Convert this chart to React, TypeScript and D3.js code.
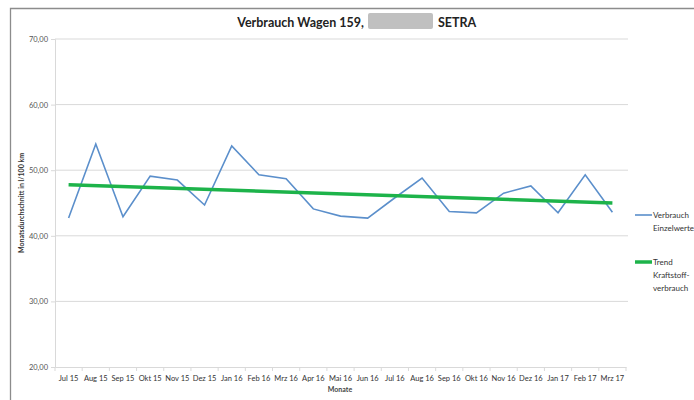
import React, { useEffect, useRef } from "react";
import * as d3 from "d3";

const months = [
  "Jul 15", "Aug 15", "Sep 15", "Okt 15", "Nov 15", "Dez 15", "Jan 16",
  "Feb 16", "Mrz 16", "Apr 16", "Mai 16", "Jun 16", "Jul 16", "Aug 16",
  "Sep 16", "Okt 16", "Nov 16", "Dez 16", "Jan 17", "Feb 17", "Mrz 17",
];
const verbrauch = [
  42.7, 54.0, 42.9, 49.1, 48.5, 44.7, 53.7, 49.3, 48.7, 44.1, 43.0,
  42.7, 45.8, 48.8, 43.7, 43.5, 46.5, 47.6, 43.5, 49.3, 43.6,
];
// trend line end points
const trend = [
  { month: "Jul 15", value: 47.8 },
  { month: "Mrz 17", value: 45.0 },
];
const yTicks = [20, 30, 40, 50, 60, 70];

const W = 694;
const H = 400;
const FONT = "Lato, 'Open Sans', sans-serif";

const App = () => {
  const ref = useRef<SVGSVGElement>(null);

  useEffect(() => {
    drawChart();
    //eslint-disable-next-line
  }, []);

  function drawChart() {
    const svg = d3.select(ref.current);
    svg.selectAll("*").remove();

    const left = 55, right = 626, top = 39, bottom = 367;

    const x = d3.scaleBand().domain(months).range([left, right]).padding(0);
    const y = d3.scaleLinear().domain([20, 70]).range([bottom, top]);
    const cx = (m: string) => (x(m) as number) + x.bandwidth() / 2;

    // frame (top + left, cropped)
    svg.append("path").attr("d", `M10.5,${H}V8.5H${W}`).attr("fill", "none")
      .attr("stroke", "#8c8c8c").attr("stroke-width", 1.3);

    // title
    svg.append("text").attr("x", 364).attr("y", 27)
      .attr("text-anchor", "end").attr("font-family", FONT)
      .attr("font-size", 12.5).attr("font-weight", "bold").attr("fill", "#222")
      .text("Verbrauch Wagen 159,");
    svg.append("rect").attr("x", 368).attr("y", 13).attr("width", 65).attr("height", 16)
      .attr("rx", 2).attr("fill", "#c0c0c0");
    svg.append("text").attr("x", 438).attr("y", 27)
      .attr("font-family", FONT)
      .attr("font-size", 12.5).attr("font-weight", "bold").attr("fill", "#222")
      .text("SETRA");

    // gridlines
    svg.append("g").selectAll("line").data(yTicks.filter((d) => d > 20)).enter()
      .append("line")
      .attr("x1", left).attr("x2", right + 2)
      .attr("y1", (d) => y(d)).attr("y2", (d) => y(d))
      .attr("stroke", "#d9d9d9").attr("stroke-width", 1);

    // y axis
    const yAxis = svg.append("g").attr("transform", `translate(${left},0)`)
      .call(d3.axisLeft(y).tickValues(yTicks).tickSize(4)
        .tickFormat((d) => d3.format(".2f")(d as number).replace(".", ",")));
    yAxis.select(".domain").attr("stroke", "#d9d9d9");
    yAxis.selectAll(".tick line").attr("stroke", "#d9d9d9");
    yAxis.selectAll(".tick text").attr("font-family", FONT).attr("font-size", 7.5)
      .attr("fill", "#555").attr("x", -7);

    // x axis
    const xAxis = svg.append("g").attr("transform", `translate(0,${bottom})`)
      .call(d3.axisBottom(x).tickSize(0).tickPadding(9));
    xAxis.select(".domain").attr("stroke", "#d9d9d9");
    xAxis.selectAll(".tick text").attr("font-family", FONT).attr("font-size", 7.5)
      .attr("fill", "#333");
    svg.append("g").selectAll("line").data(months.concat(["end"])).enter()
      .append("line")
      .attr("x1", (d, i) => left + i * x.bandwidth())
      .attr("x2", (d, i) => left + i * x.bandwidth())
      .attr("y1", bottom).attr("y2", bottom + 4)
      .attr("stroke", "#d9d9d9");

    // axis titles
    svg.append("text").attr("transform", `translate(24,${(top + bottom) / 2}) rotate(-90)`)
      .attr("text-anchor", "middle").attr("font-family", FONT).attr("font-size", 7)
      .attr("font-weight", "bold").attr("fill", "#333")
      .text("Monatsdurchschnitt in l/100 km");
    svg.append("text").attr("x", 340).attr("y", 392).attr("text-anchor", "middle")
      .attr("font-family", FONT).attr("font-size", 7).attr("font-weight", "bold")
      .attr("fill", "#444").text("Monate");

    // series
    const line = d3.line<number>().x((d, i) => cx(months[i])).y((d) => y(d));
    svg.append("path").datum(verbrauch).attr("d", line).attr("fill", "none")
      .attr("stroke", "#5b8fcb").attr("stroke-width", 1.6);

    const trendLine = d3.line<{ month: string; value: number }>()
      .x((d) => cx(d.month)).y((d) => y(d.value));
    svg.append("path").datum(trend).attr("d", trendLine).attr("fill", "none")
      .attr("stroke", "#1db34a").attr("stroke-width", 3.5);

    // legend
    const legend = [
      { color: "#5b8fcb", w: 1.6, y: 215, lines: ["Verbrauch", "Einzelwerte"] },
      { color: "#1db34a", w: 3.5, y: 262, lines: ["Trend", "Kraftstoff-", "verbrauch"] },
    ];
    legend.forEach((l) => {
      svg.append("line").attr("x1", 635).attr("x2", 652).attr("y1", l.y).attr("y2", l.y)
        .attr("stroke", l.color).attr("stroke-width", l.w);
      l.lines.forEach((t, i) => {
        svg.append("text").attr("x", 653).attr("y", l.y + 3 + i * 13)
          .attr("font-family", FONT).attr("font-size", 8).attr("fill", "#333").text(t);
      });
    });
  }

  return (
    <svg
      ref={ref}
      width={W}
      height={H}
      style={{ position: "absolute", top: 0, left: 0, display: "block", background: "#fff" }}
    />
  );
};

export default App;
